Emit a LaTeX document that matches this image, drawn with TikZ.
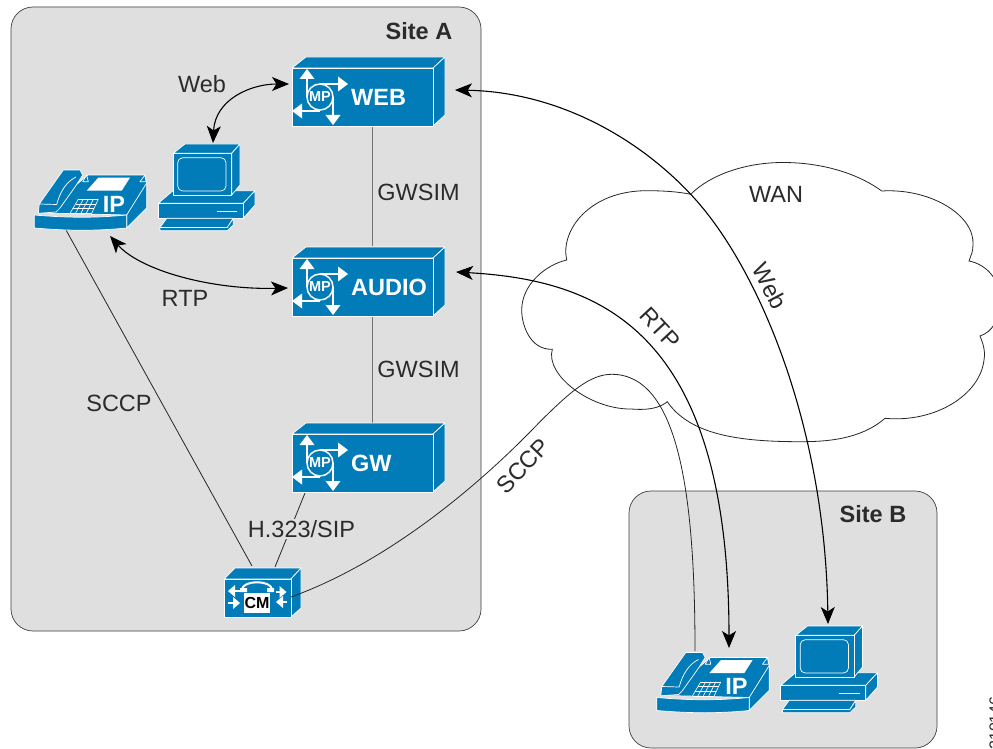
\documentclass[tikz,border=0pt]{standalone}
\usepackage{fontspec}
\setmainfont{Liberation Sans}
\usetikzlibrary{arrows.meta}
\definecolor{ciscoblue}{HTML}{017CB8}
\definecolor{panelgray}{HTML}{DFDFDF}
\definecolor{inktext}{HTML}{2B2B2B}
\tikzset{
  x=1pt,y=-1pt,
  panel/.style={draw=black!75,line width=0.7pt,fill=panelgray,rounded corners=22pt},
  solidblue/.style={fill=ciscoblue,draw=white,line width=0.7pt,line join=round},
  whitefill/.style={fill=white,draw=none},
  whiteline/.style={draw=white,line width=0.7pt},
  lbl/.style={font=\fontsize{23.5}{26}\selectfont,text=inktext,inner sep=0pt},
  blbl/.style={font=\fontsize{23.5}{26}\selectfont\bfseries,text=inktext,inner sep=0pt},
  wlbl/.style={font=\fontsize{23.5}{26}\selectfont\bfseries,text=white,inner sep=0pt},
  thinwire/.style={draw=black!85,line width=0.8pt},
  graywire/.style={draw=black!55,line width=1pt},
  flow/.style={draw=black,line width=1.1pt,{Stealth[length=17pt,width=14pt,inset=4.5pt]}-{Stealth[length=17pt,width=14pt,inset=4.5pt]}},
  serverbox/.pic={
    \path[solidblue] (0,0) -- (14,-11) -- (153,-11) -- (141,0) -- cycle;
    \path[solidblue] (141,0) -- (153,-11) -- (153,47) -- (141,58) -- cycle;
    \path[solidblue] (0,0) rectangle (141,58);
    \draw[white,line width=1.5pt] (28,29) circle[radius=13];
    \draw[white,line width=1.5pt] (15,29) -- (15,10) (28,16) -- (47,16) (41,29) -- (41,48) (28,43) -- (9,43);
    \fill[white] (15,1) -- (22.5,11) -- (7.5,11) -- cycle;
    \fill[white] (56,16) -- (46,23.5) -- (46,8.5) -- cycle;
    \fill[white] (41,57) -- (33.5,47) -- (48.5,47) -- cycle;
    \fill[white] (0,43) -- (10,35.5) -- (10,50.5) -- cycle;
    \node[font=\fontsize{14.5}{16}\selectfont\bfseries,text=white,inner sep=0pt] at (28,29) {MP};
    \node[wlbl,anchor=west] at (59,29.5) {#1};
  },
  phoneset/.pic={
    \path[solidblue] (88,175) -- (145,175) -- (146.7,183) -- (146.7,208) -- (126.7,228) -- (126.7,215) -- (44,213) -- (70,190) -- cycle;
    \draw[whiteline] (126.7,215) -- (146.7,183);
    \path[solidblue] (82.7,181.7) -- (86.7,175) -- (88.3,181.7) -- cycle;
    \path[solidblue] (140,181.7) -- (145,175) -- (146,181.7) -- cycle;
    \path[solidblue] (38.3,213.3) -- (39.3,204) -- (63.3,170) -- (80,170) -- (82.7,175) -- (75,187) -- (60,208) -- (56,212) -- cycle;
    \draw[whiteline] (39.3,204) -- (56.7,204.5) (56.7,204.5) .. controls (60,192) and (66,182) .. (76,177);
    \path[solidblue] (34.3,215) .. controls (70,218) and (95,218) .. (126.7,215) -- (126.7,228) .. controls (95,231) and (70,231) .. (34.3,228) -- cycle;
    \path[whitefill] (86.7,190.7) -- (98.3,177.7) -- (130,177.7) -- (121.7,190.7) -- cycle;
    \foreach \t in {0,0.25,0.5,0.75,1}
      \draw[white,line width=0.6pt] ({70+21.7*\t},213.3) -- ({78.3+20*\t},199.3);
    \foreach \t in {0,0.333,0.667,1}
      \draw[white,line width=0.6pt] ({70+8.3*\t},{213.3-14*\t}) -- ({91.7+6.6*\t},{213.3-14*\t});
    \node[wlbl] at (114,204) {IP};
  },
  pcset/.pic={
    \path[solidblue] (158.3,203.3) -- (173,190.7) -- (255,190.7) -- (243.3,203.3) -- cycle;
    \path[solidblue] (243.3,203.3) -- (255,190.7) -- (255,205) -- (243.3,218.3) -- cycle;
    \path[solidblue] (158.3,203.3) rectangle (243.3,218.3);
    \draw[whiteline,line width=1.2pt] (216.7,211.7) -- (237.3,211.7);
    \path[solidblue] (166.7,218.3) -- (233.3,218.3) -- (227.3,227.5) -- (160,227.5) -- cycle;
    \path[solidblue] (160,227.5) -- (227.3,227.5) -- (233.3,218.3) -- (233.3,225) -- (227.3,230.7) -- (160,230.7) -- cycle;
    \path[solidblue] (173.3,153.3) -- (185,144) -- (240,144) -- (231.7,153.3) -- cycle;
    \path[solidblue] (231.7,153.3) -- (240,144) -- (240,185) -- (231.7,195) -- cycle;
    \path[solidblue] (173.3,153.3) rectangle (231.7,195);
    \draw[white,line width=0.7pt,rounded corners=5pt] (177.7,157.7) rectangle (226,191);
  },
  cmbox/.pic={
    \path[solidblue] (224,579) -- (235,568) -- (301,568) -- (291,579) -- cycle;
    \path[solidblue] (291,579) -- (301,568) -- (301,608) -- (291,617) -- cycle;
    \path[solidblue] (224,579) rectangle (291,617);
    \path[whitefill] (244,593) rectangle (270,613);
    \draw[white,line width=2pt] (242,589) .. controls (244,580) and (270,580) .. (272,589);
    \fill[white] (240,588) rectangle (247,592) (267,588) rectangle (274,592);
    \draw[white,line width=2pt] (232,591) -- (240,591) (228,603) -- (236,603) (276,592) -- (282,592) (287,602) -- (280,602);
    \fill[white] (228,591) -- (235,585) -- (235,597) -- cycle;
    \fill[white] (240,603) -- (233,597) -- (233,609) -- cycle;
    \fill[white] (286.5,592) -- (279.5,586) -- (279.5,598) -- cycle;
    \fill[white] (276,602) -- (283,596) -- (283,608) -- cycle;
    \node[font=\fontsize{16}{17}\selectfont\bfseries,text=black,inner sep=0pt] at (257,603) {CM};
  }
}
\begin{document}
\begin{tikzpicture}
\useasboundingbox (0,0) rectangle (993,749);
\fill[white] (0,0) rectangle (993,749);
% panels
\path[panel] (11,7) rectangle (481,631);
\path[panel] (629,491) rectangle (937,748);
% cloud
\path[draw=black!85,line width=0.8pt,fill=white]
  (690.7,194.3) .. controls (710,175) and (745,162.5) .. (783,162.5)
  .. controls (825,162.5) and (860,175) .. (881.7,191)
  .. controls (930,188) and (975,215) .. (973,245)
  .. controls (973,252) and (971,255) .. (969,261)
  .. controls (985,264) and (1000,278) .. (1000,300)
  .. controls (1000,320) and (992,332) .. (980,336)
  .. controls (985,348) and (985,355) .. (984,360)
  .. controls (980,395) and (935,423) .. (885,418.3)
  .. controls (860,440) and (825,441.7) .. (800,441.7)
  .. controls (740,441.7) and (690,435) .. (667.3,401.7)
  .. controls (655,412) and (635,409) .. (630,409)
  .. controls (590,409) and (545,375) .. (552.3,349.3)
  .. controls (530,350) and (521.7,325) .. (521.7,310)
  .. controls (521.7,285) and (545,265) .. (566.7,260)
  .. controls (560,230) and (590,190.7) .. (646.7,190.7)
  .. controls (665,190.7) and (680,192) .. (690.7,194.3) -- cycle;
% connection points
\coordinate (webN) at (372,126);
\coordinate (audioS) at (372,246);
\coordinate (audioB) at (372,316);
\coordinate (gwN) at (372,423);
\coordinate (gwS) at (305,493);
\coordinate (cmN) at (275,567);
\coordinate (cmNW) at (252,566);
\coordinate (cmE) at (291,597);
\coordinate (phoneAS) at (66,230);
\coordinate (phoneBH) at (695,651);
\coordinate (webE) at (455,90);
\coordinate (webW) at (289,84);
\coordinate (pcAN) at (213,143);
\coordinate (pcBN) at (828,624);
\coordinate (audioE) at (456,272);
\coordinate (audioW) at (288,288);
\coordinate (phoneAE) at (110,236);
\coordinate (phoneBN) at (729,648);
% plain wires
\draw[graywire] (webN) -- (audioS);
\draw[graywire] (audioB) -- (gwN);
\draw[thinwire] (phoneAS) -- (cmNW);
\draw[thinwire] (gwS) -- (cmN);
% devices
\pic at (292,68) {serverbox=WEB};
\pic at (292,258) {serverbox=AUDIO};
\pic at (292,434) {serverbox=GW};
\pic at (0,0) {phoneset};
\pic at (622.5,482.5) {phoneset};
\pic at (0,0) {pcset};
\pic at (622.5,482) {pcset};
\pic at (0,0) {cmbox};
% wire drawn over the CM box
\draw[thinwire] (cmE) .. controls (380,565) and (470,495) .. (540,421.7)
  .. controls (570,392) and (590,374.3) .. (611.7,374.3)
  .. controls (680,374.3) and (695,500) .. (phoneBH);
% arrows
\draw[flow] (pcAN) .. controls (215,100) and (250,84) .. (webW);
\draw[flow] (phoneAE) .. controls (140,270) and (210,290) .. (audioW);
\draw[flow] (webE) .. controls (560,92) and (640,140) .. (690.7,194.3)
  .. controls (755,262) and (825,420) .. (pcBN);
\draw[flow] (audioE) .. controls (600,280) and (729,330) .. (phoneBN);
% labels
\node[blbl] (siteA) at (419,31) {Site A};
\node[blbl] (siteB) at (873,514) {Site B};
\node[lbl] (lweb) at (202,84) {Web};
\node[lbl] (lrtp) at (185,298) {RTP};
\node[lbl] (lsccp) at (119,403) {SCCP};
\node[lbl] (lg1) at (418.5,192) {GWSIM};
\node[lbl] (lg2) at (418.5,369) {GWSIM};
\node[lbl,fill=panelgray,inner sep=1pt] (lh) at (301.5,529) {H.323/SIP};
\node[lbl] (lwan) at (776,194) {WAN};
\node[lbl,rotate=-62] (lwebw) at (770,286) {Web};
\node[lbl,rotate=-47] (lrtpw) at (660,328) {RTP};
\node[lbl,rotate=46] (lsccpw) at (523,466) {SCCP};
\node[font=\fontsize{16}{17}\selectfont,text=inktext,rotate=90,inner sep=0pt] (fig) at (995,723) {210146};
\end{tikzpicture}
\end{document}
